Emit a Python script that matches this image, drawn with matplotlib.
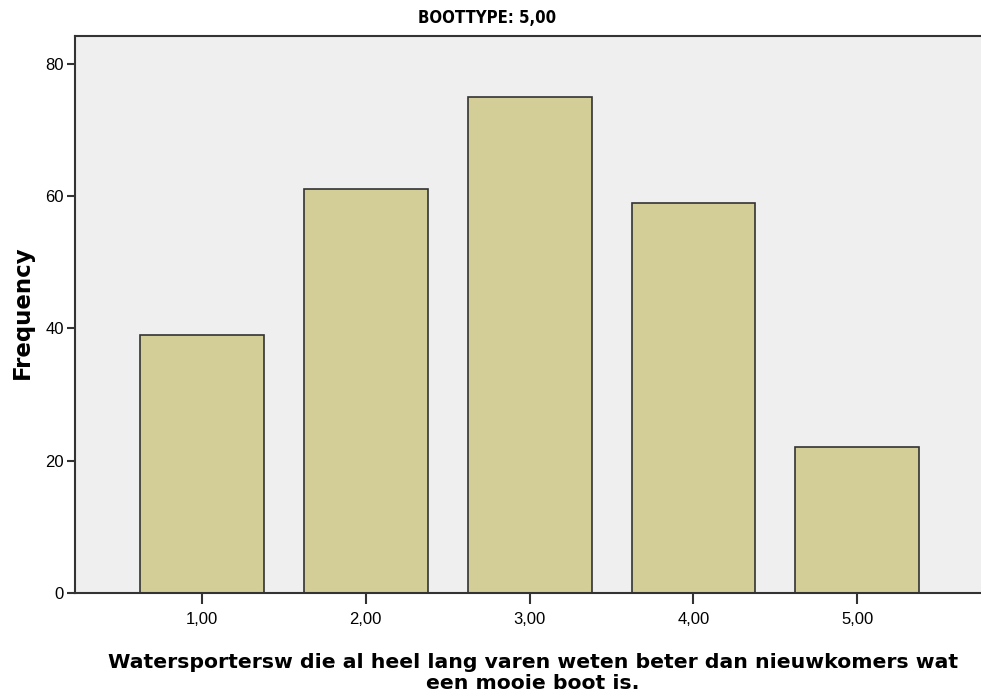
import matplotlib
matplotlib.use("Agg")
import matplotlib.pyplot as plt

categories = ["1,00", "2,00", "3,00", "4,00", "5,00"]
positions = [1, 2, 3, 4, 5]
frequencies = [39, 61, 75, 59, 22]
y_ticks = [0, 20, 40, 60, 80]

plt.rcParams["font.family"] = ["Liberation Sans", "DejaVu Sans"]

fig = plt.figure(figsize=(9.81, 6.97), dpi=100)
ax = fig.add_axes([75 / 981, 104 / 697, 920 / 981, 557 / 697])

ax.set_facecolor("#efefef")
ax.bar(positions, frequencies, width=0.756, color="#d3ce97",
       edgecolor="#333333", linewidth=1.2, zorder=2)

ax.set_xlim(0.226, 5.84)
ax.set_ylim(0, 84.2)
ax.set_xticks(positions)
ax.set_xticklabels(categories)
ax.set_yticks(y_ticks)

for side in ["left", "top", "bottom"]:
    ax.spines[side].set_color("#333333")
    ax.spines[side].set_linewidth(1.5)
ax.spines["right"].set_visible(False)

ax.tick_params(axis="y", direction="out", length=6, width=1.5, color="#333333",
               labelsize=12, pad=2)
ax.tick_params(axis="x", direction="out", length=8, width=1.5, color="#333333",
               labelsize=12, pad=6)

ax.set_ylabel("Frequency", fontsize=16.5, fontweight="bold", family="DejaVu Sans")
ax.yaxis.label.set_va("center")
ax.yaxis.set_label_coords(-(75 - 22) / 920, (593 - 312) / 557)
ax.set_xlabel("Watersportersw die al heel lang varen weten beter dan nieuwkomers wat\n"
              "een mooie boot is.", fontsize=14.7, fontweight="bold",
              family="DejaVu Sans", linespacing=1.1)
ax.xaxis.set_label_coords((533 - 75) / 920, -(673 - 593) / 557)
ax.xaxis.label.set_va("center")

fig.text(487 / 981, 1 - 18 / 697, "BOOTTYPE: 5,00", fontsize=12,
         fontweight="bold", family="DejaVu Sans", fontstretch="condensed",
         ha="center", va="center")

fig.savefig("out.png", dpi=100)
